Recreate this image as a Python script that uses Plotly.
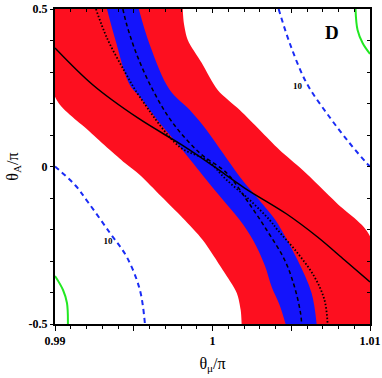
import plotly.graph_objs as go

# red band: lower-left edge (r1) and upper-right edge (r2)
r1_x = [0.99, 0.99209, 0.99444, 0.99539, 0.99672, 0.99811, 0.99938, 1.00065, 1.00154, 1.00179, 1.00185]
r1_y = [0.2216, 0.1159, 0.0111, -0.0270, -0.0937, -0.1635, -0.2333, -0.3286, -0.4016, -0.4556, -0.5]
r2_x = [0.99811, 0.99818, 0.99843, 0.99932, 1.00033, 1.00173, 1.00300, 1.00426, 1.00572, 1.00788, 1.01]
r2_y = [0.5, 0.4556, 0.4016, 0.3286, 0.2429, 0.1794, 0.1159, 0.0524, -0.0111, -0.1159, -0.2216]

# blue band edges
b1_x = [0.99330, 0.99380, 0.99475, 0.99539, 0.99666, 0.99792, 0.99877, 0.99962, 1.00067, 1.00173, 1.00257,
        1.00331, 1.00376, 1.00426, 1.00464]
b1_y = [0.5, 0.4079, 0.2587, 0.2216, 0.1371, 0.0629, 0.0102, -0.0429, -0.1063, -0.1698, -0.2333,
        -0.3127, -0.3825, -0.4397, -0.5]
b2_x = [0.99532, 0.99602, 0.99729, 0.99856, 0.99962, 1.00067, 1.00173, 1.00279, 1.00384, 1.00426, 1.00540,
        1.00629, 1.00661]
b2_y = [0.5, 0.3857, 0.2429, 0.1794, 0.1159, 0.0419, -0.0324, -0.0959, -0.1594, -0.1911, -0.2968,
        -0.4016, -0.5]

# solid black curve
solid_x = [0.99, 0.99241, 0.99526, 0.99805, 0.99995, 1.00204, 1.00471, 1.00667, 1.00838, 1.01]
solid_y = [0.3762, 0.2587, 0.1540, 0.0683, 0.0048, -0.0683, -0.1508, -0.2238, -0.2968, -0.3667]

# dotted black curve
dot_x = [0.99260, 0.99330, 0.99444, 0.99539, 0.99792, 0.99964, 1.00090, 1.00236, 1.00363, 1.00414, 1.00540,
         1.00648, 1.00711, 1.00731]
dot_y = [0.5, 0.4079, 0.3000, 0.2206, 0.0619, 0.0206, -0.0429, -0.1063, -0.1698, -0.2016, -0.2746,
         -0.3508, -0.4238, -0.5]

# dashed black curve
dash_x = [0.99431, 0.99456, 0.99520, 0.99621, 0.99748, 0.99919, 1.00090, 1.00217, 1.00344, 1.00458, 1.00521,
          1.00559, 1.00566]
dash_y = [0.5, 0.4492, 0.3540, 0.2429, 0.1381, 0.0429, -0.0206, -0.1063, -0.2016, -0.2968, -0.3825,
          -0.4651, -0.5]

# blue dashed contours (10)
c1_x = [1.00420, 1.00490, 1.00597, 1.00743, 1.00870, 1.00978, 1.01]
c1_y = [0.5, 0.3921, 0.2651, 0.1571, 0.0746, 0.0111, 0.0]
c2_x = [0.99, 0.99127, 0.99209, 0.99349, 0.99456, 0.99539, 0.99571]
c2_y = [0.0, -0.0587, -0.1127, -0.2111, -0.2873, -0.3921, -0.5]
c_label_x = [1.00540, 0.99336]
c_label_y = [0.2524, -0.2387]

# green corner curves
g1_x = [1.00908, 1.00921, 1.00953, 1.01]
g1_y = [0.5, 0.4333, 0.3921, 0.3571]
g2_x = [0.99, 0.99051, 0.99076, 0.99082]
g2_y = [-0.3476, -0.3921, -0.4333, -0.5]

x_range = [0.99, 1.01]
y_range = [-0.5, 0.5]

RED = '#fd0f1f'
BLUE = '#1414fb'
SERIF = 'Liberation Serif'

fig = go.Figure()

# red band: left edge (plot corner + r1) then right edge (r2 + plot corner), filled between
fig.add_trace(go.Scatter(x=[x_range[0]] + r1_x, y=[y_range[1]] + r1_y, mode='lines',
                         line=dict(width=0, shape='spline', smoothing=0.8), hoverinfo='skip'))
fig.add_trace(go.Scatter(x=r2_x + [x_range[1]], y=r2_y + [y_range[0]], mode='lines', fill='tonextx',
                         fillcolor=RED, line=dict(width=0, shape='spline', smoothing=0.8), hoverinfo='skip'))

fig.add_trace(go.Scatter(x=b1_x, y=b1_y, mode='lines', line=dict(width=0, shape='spline'), hoverinfo='skip'))
fig.add_trace(go.Scatter(x=b2_x, y=b2_y, mode='lines', fill='tonextx', fillcolor=BLUE,
                         line=dict(width=0, shape='spline'), hoverinfo='skip'))

fig.add_trace(go.Scatter(x=dot_x, y=dot_y, mode='lines', line=dict(color='black', width=1.8, dash='1.5px,2px', shape='spline')))
fig.add_trace(go.Scatter(x=dash_x, y=dash_y, mode='lines', line=dict(color='black', width=1.5, dash='4px,3px', shape='spline')))
fig.add_trace(go.Scatter(x=solid_x, y=solid_y, mode='lines', line=dict(color='black', width=1.5, shape='spline')))

for cx, cy in [(c1_x, c1_y), (c2_x, c2_y)]:
    fig.add_trace(go.Scatter(x=cx, y=cy, mode='lines', line=dict(color='#1a2cf5', width=2, dash='5px,4px', shape='spline')))
fig.add_trace(go.Scatter(x=c_label_x, y=c_label_y, mode='text', text=['<b>10</b>', '<b>10</b>'],
                         textfont=dict(family=SERIF, size=9, color='black')))

for gx, gy in [(g1_x, g1_y), (g2_x, g2_y)]:
    fig.add_trace(go.Scatter(x=gx, y=gy, mode='lines', line=dict(color='#22e822', width=2, shape='spline')))

# dummy trace so the mirrored axes (top/right, ticks inside) get drawn
fig.add_trace(go.Scatter(x=[], y=[], xaxis='x2', yaxis='y2'))

fig.add_annotation(x=1.00756, y=0.427, text='<b>D</b>', showarrow=False,
                   font=dict(family=SERIF, size=19, color='black'))

x_ticks = [0.99, 0.995, 1.0, 1.005, 1.01]
x_text = ['<b>0.99</b>', '', '<b>1</b>', '', '<b>1.01</b>']
y_ticks = [-0.5, -0.4, -0.3, -0.2, -0.1, 0, 0.1, 0.2, 0.3, 0.4, 0.5]
y_text = ['<b>-0.5</b>', '', '', '', '', '<b>0</b>', '', '', '', '', '<b>0.5</b>']

axis_common = dict(showgrid=False, zeroline=False, showline=True, linecolor='black', linewidth=2,
                   tickcolor='black', tickwidth=1, automargin=False)

fig.update_layout(
    width=382, height=378,
    margin=dict(l=55, r=12, t=9, b=54),
    paper_bgcolor='white', plot_bgcolor='white',
    showlegend=False,
    font=dict(family=SERIF, color='black'),
    xaxis=dict(range=x_range, tickvals=x_ticks, ticktext=x_text, ticks='outside', ticklen=5,
               minor=dict(dtick=0.001, tick0=0.99, ticks='outside', ticklen=3, tickcolor='black'),
               tickfont=dict(family=SERIF, size=12),
               title=dict(text='θ<sub>μ</sub>/π', font=dict(family=SERIF, size=16), standoff=10),
               **axis_common),
    yaxis=dict(range=y_range, tickvals=y_ticks, ticktext=y_text, ticks='outside', ticklen=3,
               tickfont=dict(family=SERIF, size=12),
               title=dict(text='θ<sub>A</sub>/π', font=dict(family=SERIF, size=16), standoff=6),
               **axis_common),
    xaxis2=dict(range=x_range, overlaying='x', side='top', anchor='y', tickvals=x_ticks,
                showticklabels=False, ticks='inside', ticklen=4,
                minor=dict(dtick=0.001, tick0=0.99, ticks='inside', ticklen=3, tickcolor='black'),
                **axis_common),
    yaxis2=dict(range=y_range, overlaying='y', side='right', anchor='x', tickvals=y_ticks,
                showticklabels=False, ticks='inside', ticklen=3, **axis_common),
)

# drop the browser's default page margin so the figure sits at the window's corner
fig.write_html("out.html", config={'displayModeBar': False},
               post_script="document.body.style.margin='0px';")
